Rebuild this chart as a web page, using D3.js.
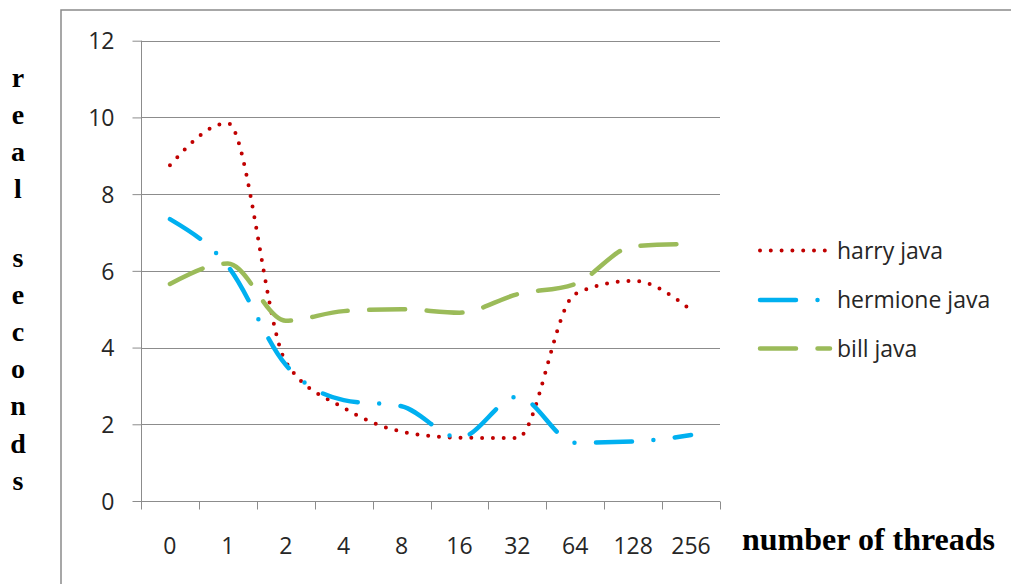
<!DOCTYPE html>
<html>
<head>
<meta charset="utf-8">
<script src="https://cdn.jsdelivr.net/npm/d3@7/dist/d3.min.js"></script>
<style>
  html, body { margin: 0; padding: 0; background: #fff; }
  svg { display: block; }
</style>
</head>
<body>
<svg id="chart" width="1011" height="584"></svg>
<script>
// Thread counts on the x axis
const threads = ["0", "1", "2", "4", "8", "16", "32", "64", "128", "256"];
// Real seconds per run, one array per series
const harryJava    = [8.75, 9.85, 3.63, 2.43, 1.81, 1.65, 1.64, 5.40, 5.74, 4.98];
const hermioneJava = [7.35, 6.12, 3.55, 2.63, 2.47, 1.65, 2.72, 1.52, 1.55, 1.72];
const billJava     = [5.66, 6.19, 4.70, 4.95, 5.00, 4.91, 5.39, 5.66, 6.64, 6.70];
const yTicks = [0, 2, 4, 6, 8, 10, 12];
const seriesNames = ["harry java", "hermione java", "bill java"];

const series = [
  { name: seriesNames[0], values: harryJava,    color: "#c00000", dash: "0 10.8",          width: 4,   cap: "round" },
  { name: seriesNames[1], values: hermioneJava, color: "#00b0f0", dash: "36 21.5 0 21.5",  width: 4.5, cap: "round" },
  { name: seriesNames[2], values: billJava,     color: "#9bbb59", dash: "36 21.5",         width: 4.5, cap: "round" }
];

const svg = d3.select("#chart");
const labelFont = "'Open Sans', 'Noto Sans', sans-serif";
const titleFont = "'Liberation Serif', 'Times New Roman', serif";
const labelSize = 23;

// Outer chart-area border (extends past the visible frame on the right and bottom)
svg.append("rect")
  .attr("x", 61).attr("y", 10)
  .attr("width", 1000).attr("height", 620)
  .attr("fill", "none")
  .attr("stroke", "#8a8a8a")
  .attr("stroke-width", 1.5);

const plot = { left: 141, right: 720, top: 40.7, bottom: 501 };

const x = d3.scaleBand().domain(threads).range([plot.left, plot.right]);
const y = d3.scaleLinear().domain([0, 12]).range([plot.bottom, plot.top]);

// Horizontal gridlines
svg.append("g")
  .selectAll("line")
  .data(yTicks.filter(d => d > 0))
  .join("line")
  .attr("x1", plot.left).attr("x2", plot.right)
  .attr("y1", d => Math.round(y(d)) + 0.5).attr("y2", d => Math.round(y(d)) + 0.5)
  .attr("stroke", "#8c8c8c").attr("stroke-width", 1);

// Y axis
const yAxis = svg.append("g")
  .attr("transform", `translate(${plot.left + 0.5},0)`)
  .call(d3.axisLeft(y).tickValues(yTicks).tickSize(9).tickPadding(18).tickFormat(d3.format("d")));
yAxis.select(".domain").attr("stroke", "#8c8c8c").attr("d", `M0,${plot.top}V${plot.bottom}`);
yAxis.selectAll(".tick line").attr("stroke", "#8c8c8c");
yAxis.selectAll(".tick text")
  .attr("font-family", labelFont).attr("font-size", labelSize)
  .attr("fill", "#262626").attr("dy", "0.36em");

// X axis: ticks on the band boundaries, labels centered in bands
const xAxisG = svg.append("g").attr("transform", `translate(0,${Math.round(plot.bottom) + 0.5})`);
xAxisG.append("line")
  .attr("x1", plot.left).attr("x2", plot.right)
  .attr("stroke", "#8c8c8c");
const boundaries = threads.map(t => x(t)).concat([plot.right]);
xAxisG.selectAll("line.tk")
  .data(boundaries)
  .join("line")
  .attr("class", "tk")
  .attr("x1", d => Math.round(d) + 0.5).attr("x2", d => Math.round(d) + 0.5)
  .attr("y1", 0).attr("y2", 8)
  .attr("stroke", "#8c8c8c");
xAxisG.selectAll("text")
  .data(threads)
  .join("text")
  .attr("x", d => x(d) + x.bandwidth() / 2)
  .attr("y", 52)
  .attr("text-anchor", "middle")
  .attr("font-family", labelFont).attr("font-size", labelSize)
  .attr("fill", "#262626")
  .text(d => d);

// Series lines (smoothed)
const line = d3.line()
  .x((d, i) => x(threads[i]) + x.bandwidth() / 2)
  .y(d => y(d))
  .curve(d3.curveMonotoneX);

svg.append("g")
  .selectAll("path")
  .data(series)
  .join("path")
  .attr("d", s => line(s.values))
  .attr("fill", "none")
  .attr("stroke", s => s.color)
  .attr("stroke-width", s => s.width)
  .attr("stroke-dasharray", s => s.dash)
  .attr("stroke-linecap", s => s.cap)
  .attr("stroke-linejoin", "round");

// Legend
const legend = svg.append("g");
const legendY = [250.5, 300, 348.5];
series.forEach((s, i) => {
  legend.append("line")
    .attr("x1", 760).attr("x2", i === 0 ? 826 : 830)
    .attr("y1", legendY[i]).attr("y2", legendY[i])
    .attr("stroke", s.color)
    .attr("stroke-width", s.width)
    .attr("stroke-dasharray", s.dash)
    .attr("stroke-linecap", s.cap);
  legend.append("text")
    .attr("x", 837).attr("y", legendY[i])
    .attr("dy", "0.36em")
    .attr("font-family", labelFont).attr("font-size", labelSize)
    .attr("fill", "#262626")
    .text(s.name);
});

// Axis titles
const yTitleWords = ["real", "seconds"];
const yTitle = svg.append("g")
  .attr("font-family", titleFont).attr("font-weight", "bold")
  .attr("font-size", 28).attr("fill", "#000").attr("text-anchor", "middle");
const wordStart = [86.5, 266.5];
yTitleWords.forEach((w, wi) => {
  w.split("").forEach((ch, ci) => {
    yTitle.append("text")
      .attr("x", 18)
      .attr("y", wordStart[wi] + ci * 37.2)
      .text(ch);
  });
});

svg.append("text")
  .attr("x", 742).attr("y", 550)
  .attr("font-family", titleFont).attr("font-weight", "bold")
  .attr("font-size", 32).attr("fill", "#000")
  .text("number of threads");
</script>
</body>
</html>
